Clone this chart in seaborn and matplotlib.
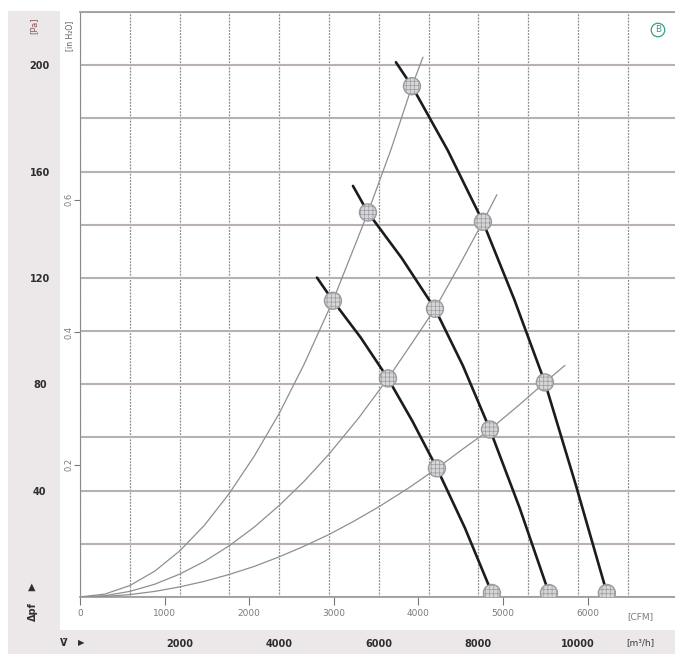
import pandas as pd
import matplotlib
matplotlib.use('Agg')
import matplotlib.pyplot as plt
import seaborn as sns
from matplotlib.patches import Rectangle

# fan characteristic curves: air flow [m3/h] vs static pressure [Pa]
fan1_flow = [4760, 5080, 5640, 6185, 6680, 7169, 7730, 8273]
fan1_pa = [120.1, 111.4, 97.5, 82.2, 66.0, 48.4, 26.0, 1.5]
fan2_flow = [5482, 5783, 6460, 7129, 7690, 8233, 8830, 9418]
fan2_pa = [154.6, 144.6, 127.5, 108.4, 87.0, 63.0, 33.5, 1.5]
fan3_flow = [6345, 6667, 7385, 8092, 8720, 9337, 9960, 10582]
fan3_pa = [201.1, 192.1, 168.0, 141.1, 112.0, 80.7, 42.0, 1.5]

# system (resistance) curves through the operating points
sysA_flow = [0, 500, 1000, 1500, 2000, 2500, 3000, 3500, 4000, 4500, 5080, 5783, 6250, 6667, 6888]
sysA_pa = [0, 1.1, 4.3, 9.7, 17.3, 27.0, 39.0, 53.0, 69.0, 87.5, 111.4, 144.6, 168.5, 192.1, 203.0]
sysB_flow = [0, 500, 1000, 1500, 2000, 2500, 3000, 3500, 4000, 4500, 5000, 5600, 6185, 6650,
             7129, 7600, 8092, 8373]
sysB_pa = [0, 0.5, 2.1, 4.8, 8.6, 13.4, 19.3, 26.3, 34.4, 43.5, 53.7, 67.4, 82.2, 95.0,
           108.4, 124.1, 141.1, 151.3]
sysC_flow = [0, 500, 1000, 1500, 2000, 2500, 3000, 3500, 4000, 4500, 5000, 5500, 6000, 6600,
             7169, 7700, 8233, 8800, 9337, 9739]
sysC_pa = [0, 0.2, 0.9, 2.1, 3.8, 5.9, 8.5, 11.5, 15.1, 19.1, 23.5, 28.5, 33.9, 41.0,
           48.4, 55.8, 63.0, 71.9, 80.7, 87.1]

pa_ticks = [0, 20, 40, 60, 80, 100, 120, 140, 160, 180, 200, 220]
pa_labels = ['', '', '40', '', '80', '', '120', '', '160', '', '200', '']
flow_ticks = [0, 1000, 2000, 3000, 4000, 5000, 6000, 7000, 8000, 9000, 10000, 11000]
flow_labels = ['', '', '2000', '', '4000', '', '6000', '', '8000', '', '10000', '']
cfm_ticks = [0, 1000, 2000, 3000, 4000, 5000, 6000]
inh2o_ticks = [0.2, 0.4, 0.6]

sns.set_style('white')
plt.rcParams['font.family'] = ['DejaVu Sans']
plt.rcParams['hatch.linewidth'] = 0.5

W, H = 675, 654
fig = plt.figure(figsize=(W / 100, H / 100), dpi=100)
ax = fig.add_axes([80 / W, (H - 597) / H, (W - 80) / W, (597 - 12) / H])

fans = pd.concat([
    pd.DataFrame({'flow': f, 'pa': p, 'fan': n})
    for f, p, n in [(fan1_flow, fan1_pa, 'f1'), (fan2_flow, fan2_pa, 'f2'), (fan3_flow, fan3_pa, 'f3')]
])
systems = pd.concat([
    pd.DataFrame({'flow': f, 'pa': p, 'sys': n})
    for f, p, n in [(sysA_flow, sysA_pa, 'A'), (sysB_flow, sysB_pa, 'B'), (sysC_flow, sysC_pa, 'C')]
])
# operating points: where fan curves meet system curves, plus free-blowing points
marker_flow = [fan1_flow[1], fan1_flow[3], fan1_flow[5], fan1_flow[7],
               fan2_flow[1], fan2_flow[3], fan2_flow[5], fan2_flow[7],
               fan3_flow[1], fan3_flow[3], fan3_flow[5], fan3_flow[7]]
marker_pa = [fan1_pa[1], fan1_pa[3], fan1_pa[5], fan1_pa[7],
             fan2_pa[1], fan2_pa[3], fan2_pa[5], fan2_pa[7],
             fan3_pa[1], fan3_pa[3], fan3_pa[5], fan3_pa[7]]
points = pd.DataFrame({'flow': marker_flow, 'pa': marker_pa})

sns.lineplot(data=systems, x='flow', y='pa', units='sys', estimator=None, sort=False,
             color='#8f8f8f', lw=0.9, ax=ax, zorder=3)
sns.lineplot(data=fans, x='flow', y='pa', units='fan', estimator=None, sort=False,
             color='#1c1c1c', lw=1.9, ax=ax, zorder=4)
sns.scatterplot(data=points, x='flow', y='pa', s=150, color='#d6d6d8',
                edgecolor='#9a9aa0', linewidth=1.0, hatch='++++', ax=ax, zorder=5)

ax.set_xlim(0, 11950)
ax.set_ylim(0, 220)
ax.set_xlabel('')
ax.set_ylabel('')

ax.set_yticks(pa_ticks)
ax.set_yticklabels(pa_labels, fontsize=7, fontweight='bold', color='#2e2e2e')
ax.set_xticks(flow_ticks)
ax.set_xticklabels(flow_labels, fontsize=7, fontweight='bold', color='#2e2e2e')
ax.tick_params(axis='y', length=0, pad=29)
ax.tick_params(axis='x', length=0, pad=30)
for lbl in ax.get_yticklabels():
    lbl.set_ha('center')

ax.yaxis.grid(True, color='#b9b1b1', lw=1.5, ls='-')
ax.xaxis.grid(True, color='#8c8c8c', lw=0.9, ls=(0, (1.5, 1)))
ax.set_axisbelow(True)
for side in ['top', 'bottom']:
    ax.spines[side].set_color('#a59d9d')
    ax.spines[side].set_linewidth(1.3)
ax.spines['left'].set_color('#8c8c8c')
ax.spines['left'].set_linestyle((0, (1.5, 1)))
ax.spines['right'].set_visible(False)

# secondary scales: CFM below, inch water column on the left
cfm = ax.secondary_xaxis('bottom', functions=(lambda v: v / 1.699, lambda v: v * 1.699))
cfm.set_xticks(cfm_ticks)
cfm.set_xticklabels([str(t) for t in cfm_ticks])
cfm.tick_params(length=6, width=0.8, color='#777777', labelsize=6.5, labelcolor='#7a7a7a', pad=3)
cfm.spines['bottom'].set_visible(False)

inw = ax.secondary_yaxis('left', functions=(lambda v: v / 249.09, lambda v: v * 249.09))
inw.set_yticks(inh2o_ticks)
inw.set_yticklabels(['0.2', '0.4', '0.6'], rotation=90, va='center')
inw.tick_params(length=4, width=0.8, color='#777777', labelsize=6, labelcolor='#7a7a7a', pad=1)
inw.spines['left'].set_visible(False)

# shaded strips holding the metric scales
fig.add_artist(Rectangle((8 / W, (H - 631) / H), 52 / W, 620 / H, transform=fig.transFigure,
                         facecolor='#ece7e9', edgecolor='none', zorder=-1))
fig.add_artist(Rectangle((8 / W, 0), (W - 8) / W, 24 / H, transform=fig.transFigure,
                         facecolor='#ece7e9', edgecolor='none', zorder=-1))

fig.text(640 / W, 1 - 617 / H, '[CFM]', fontsize=6.5, color='#7a7a7a', ha='center', va='center')
fig.text(640 / W, 1 - 643 / H, '[m³/h]', fontsize=6.5, color='#3a3a3a', ha='center', va='center')
fig.text(34 / W, 1 - 26 / H, '[Pa]', fontsize=6, color='#8a5a5a', ha='center', va='center', rotation=90)
fig.text(70 / W, 1 - 36 / H, '[in H₂O]', fontsize=5.5, color='#5a5a5a', ha='center', va='center', rotation=90)
fig.text(32 / W, 1 - 587 / H, '▲', fontsize=7, color='#2e2e2e', ha='center', va='center')
fig.text(33 / W, 1 - 612 / H, 'Δpf', fontsize=7, fontweight='bold', color='#2e2e2e',
         ha='center', va='center', rotation=90)
fig.text(64 / W, 1 - 643 / H, 'V̇', fontsize=7, fontweight='bold', color='#2e2e2e', ha='center', va='center')
fig.text(81 / W, 1 - 643 / H, '▶', fontsize=6, color='#2e2e2e', ha='center', va='center')
fig.text(658 / W, 1 - 30 / H, 'B', fontsize=6.5, color='#3a9a8c', ha='center', va='center',
         bbox=dict(boxstyle='circle,pad=0.25', facecolor='none', edgecolor='#3a9a8c', lw=0.9))

fig.savefig('out.png', dpi=100)
